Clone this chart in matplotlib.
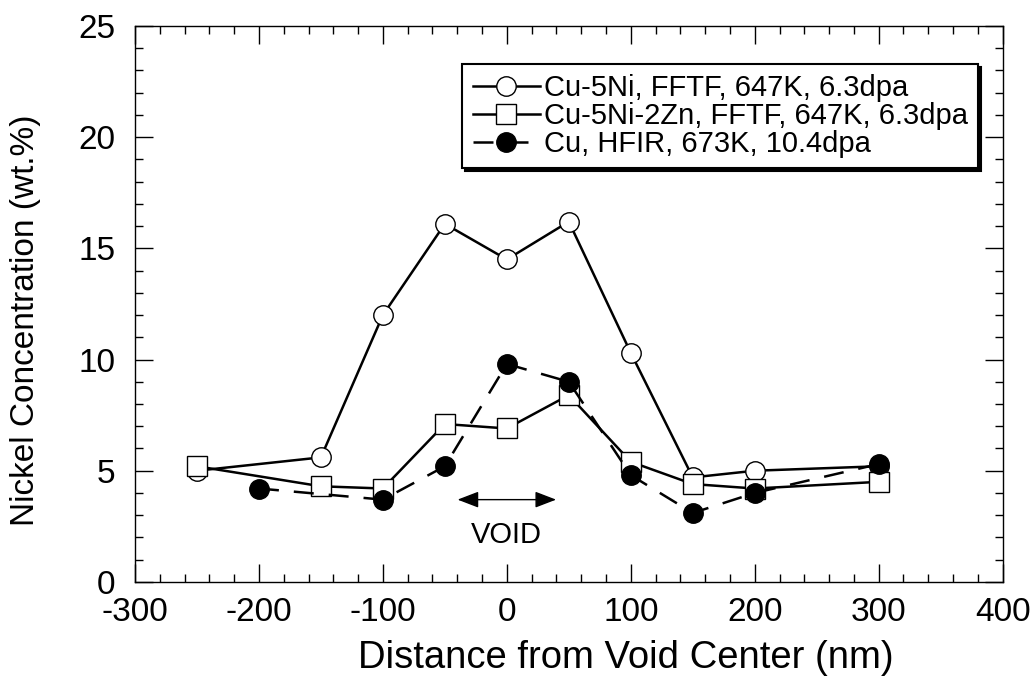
import numpy as np
import matplotlib.pyplot as plt

plt.rcParams['font.family'] = ['Liberation Sans', 'DejaVu Sans']
plt.rcParams['axes.unicode_minus'] = False

# Cu-5Ni, FFTF (open circles)
x_ni = [-250, -150, -100, -50, 0, 50, 100, 150, 200, 300]
y_ni = [5.0, 5.6, 12.0, 16.1, 14.5, 16.2, 10.3, 4.7, 5.0, 5.2]

# Cu-5Ni-2Zn, FFTF (open squares)
x_zn = [-250, -150, -100, -50, 0, 50, 100, 150, 200, 300]
y_zn = [5.2, 4.3, 4.2, 7.1, 6.9, 8.4, 5.4, 4.4, 4.2, 4.5]

# Cu, HFIR (filled circles)
x_cu = [-200, -100, -50, 0, 50, 100, 150, 200, 300]
y_cu = [4.2, 3.7, 5.2, 9.8, 9.0, 4.8, 3.1, 4.0, 5.3]

labels = ['Cu-5Ni, FFTF, 647K, 6.3dpa',
          'Cu-5Ni-2Zn, FFTF, 647K, 6.3dpa',
          'Cu, HFIR, 673K, 10.4dpa']

fig = plt.figure(figsize=(10.36, 6.83), dpi=100)
ax = fig.add_axes([0.1303, 0.148, 0.8375, 0.814])

ax.plot(x_ni, y_ni, color='black', lw=1.8, marker='o', ms=14,
        mfc='white', mec='black', mew=1.0, label=labels[0], zorder=3)
ax.plot(x_zn, y_zn, color='black', lw=1.8, marker='s', ms=14,
        mfc='white', mec='black', mew=1.0, label=labels[1], zorder=4)
ax.plot(x_cu, y_cu, color='black', lw=1.8, ls=(0, (8, 6)), marker='o', ms=14,
        mfc='black', mec='black', label=labels[2], zorder=5)

# void marker
ax.annotate('', xy=(-42, 3.7), xytext=(42, 3.7),
            arrowprops=dict(arrowstyle='<|-|>,head_length=1.3,head_width=0.5',
                            color='black', lw=1.0))
ax.text(0, 2.1, 'VOID', ha='center', va='center', fontsize=21)

ax.set_xlim(-300, 400)
ax.set_ylim(0, 25)
ax.set_xticks(np.arange(-300, 401, 100))
ax.set_yticks(np.arange(0, 26, 5))
ax.set_xticks(np.arange(-300, 401, 20), minor=True)
ax.set_yticks(np.arange(0, 26, 1), minor=True)
ax.tick_params(which='both', direction='in', top=True, right=True, labelsize=24)
ax.tick_params(which='major', length=13, width=1.0)
ax.tick_params(which='minor', length=6, width=1.0)
ax.tick_params(axis='x', pad=11)
ax.tick_params(axis='y', pad=14)
for s in ax.spines.values():
    s.set_linewidth(1.0)

ax.set_xlabel('Distance from Void Center (nm)', fontsize=27.5)
ax.set_ylabel('Nickel Concentration (wt.%)', fontsize=24)
ax.xaxis.set_label_coords(0.566, -0.105)
ax.yaxis.set_label_coords(-0.108, 0.47)

leg = ax.legend(loc='upper right', bbox_to_anchor=(0.972, 0.932), fontsize=21,
                frameon=True, fancybox=False,
                shadow={'color': 'black', 'alpha': 1},
                handlelength=2.3, handletextpad=0.15, borderpad=0.35,
                borderaxespad=0.0, labelspacing=0.0)
leg.get_frame().set_edgecolor('black')
leg.get_frame().set_linewidth(1.5)
leg.get_frame().set_alpha(1)

fig.savefig('out.png', dpi=100)
